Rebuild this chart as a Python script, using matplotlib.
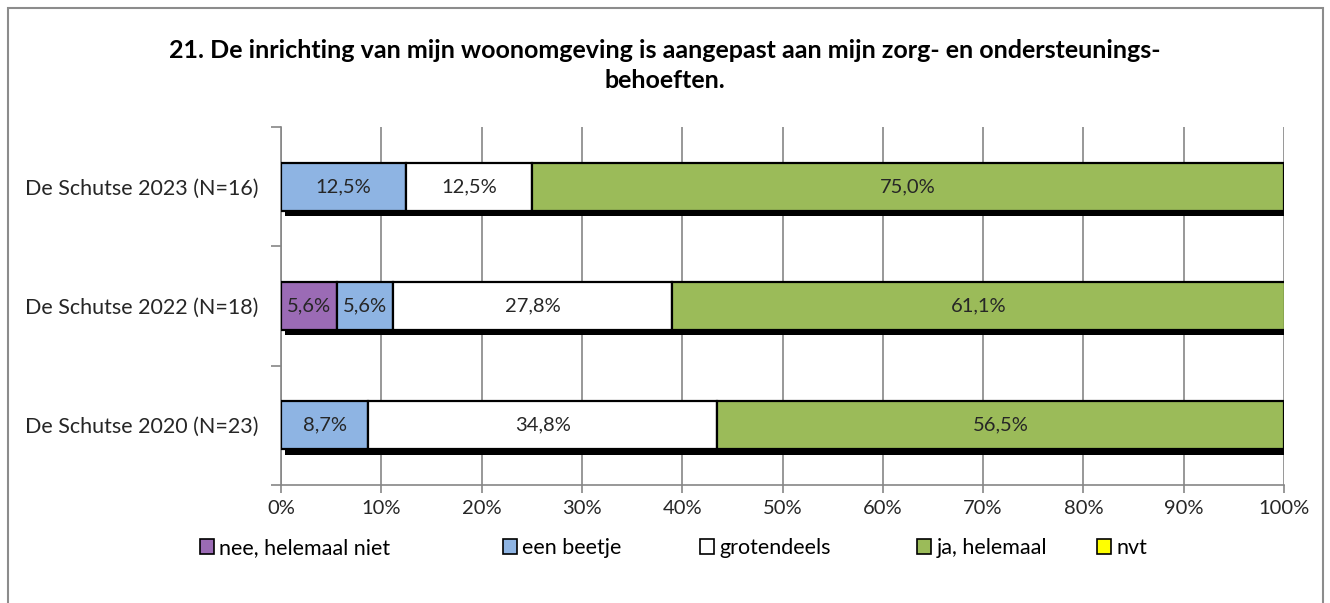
import matplotlib.pyplot as plt
import matplotlib.patheffects as pe
from matplotlib.patches import Rectangle, Patch

# gegevens
categorieen = ['De Schutse 2020 (N=23)', 'De Schutse 2022 (N=18)', 'De Schutse 2023 (N=16)']
antwoorden = ['nee, helemaal niet', 'een beetje', 'grotendeels', 'ja, helemaal', 'nvt']
nee = [0.0, 5.6, 0.0]
beetje = [8.7, 5.6, 12.5]
grotendeels = [34.8, 27.8, 12.5]
ja = [56.5, 61.1, 75.0]
nvt = [0.0, 0.0, 0.0]
kleuren = ['#9B6BB5', '#8EB4E3', '#FFFFFF', '#9BBB59', '#FFFF00']
x_ticks = [0, 10, 20, 30, 40, 50, 60, 70, 80, 90, 100]

plt.rcParams['font.family'] = ['Lato', 'DejaVu Sans']
fig = plt.figure(figsize=(13.3, 6.03), dpi=100)
ax = fig.add_axes([281 / 1330, 1 - 485 / 603, (1284 - 281) / 1330, (485 - 127) / 603])

reeksen = [nee, beetje, grotendeels, ja, nvt]
schaduw = [pe.SimplePatchShadow(offset=(3, -4), shadow_rgbFace='black', alpha=1), pe.Normal()]
for i in range(len(categorieen)):
    links = 0
    for reeks, kleur in zip(reeksen, kleuren):
        w = reeks[i]
        if w > 0:
            ax.barh(i, w, left=links, height=0.4, color=kleur, edgecolor='black',
                    linewidth=1.6, zorder=3, path_effects=schaduw)
            ax.text(links + w / 2, i, f'{w:.1f}%'.replace('.', ','), ha='center', va='center',
                    fontsize=14.5, color='#262626', zorder=4)
        links += w

ax.set_xlim(0, 100)
ax.set_ylim(-0.5, 2.5)
ax.set_xticks(x_ticks)
ax.set_xticklabels([f'{t}%' for t in x_ticks], fontsize=14.5, color='#262626')
ax.set_yticks(range(len(categorieen)))
ax.set_yticklabels(categorieen, fontsize=15.5, color='#262626')
ax.set_yticks([-0.5, 0.5, 1.5, 2.5], minor=True)
ax.tick_params(axis='y', which='major', length=0, pad=16)
ax.tick_params(axis='y', which='minor', length=7, color='#868686', width=1.2)
ax.tick_params(axis='x', length=6, color='#868686', width=1.2, pad=5)
ax.grid(axis='x', color='#868686', linewidth=1.2, zorder=0)
ax.set_axisbelow(True)
for s in ['top', 'right']:
    ax.spines[s].set_visible(False)
for s in ['left', 'bottom']:
    ax.spines[s].set_color('#868686')
    ax.spines[s].set_linewidth(1.2)

fig.text(0.5, 1 - 50 / 603, '21. De inrichting van mijn woonomgeving is aangepast aan mijn zorg- en ondersteunings-',
         ha='center', va='center', fontsize=18, fontweight='bold')
fig.text(0.5, 1 - 81 / 603, 'behoeften.', ha='center', va='center', fontsize=18, fontweight='bold')

# legenda: elk item op eigen plek, zoals in Excel
legenda_x = [200, 503, 700, 917, 1097]
for naam, kleur, lx in zip(antwoorden, kleuren, legenda_x):
    h = Patch(facecolor=kleur, edgecolor='black', linewidth=1.2)
    fig.legend(handles=[h], labels=[naam], loc='center left', bbox_to_anchor=(lx / 1330, 1 - 548 / 603),
               frameon=False, fontsize=15.5, handlelength=0.65, handleheight=0.7, handletextpad=0.25,
               borderpad=0, borderaxespad=0)

fig.patches.append(Rectangle((8 / 1330, -0.05), (1323 - 8) / 1330, 1.05 - 8 / 603,
                             transform=fig.transFigure, fill=False, edgecolor='#8C8C8C', linewidth=1.5))

fig.savefig('out.png', dpi=100)
